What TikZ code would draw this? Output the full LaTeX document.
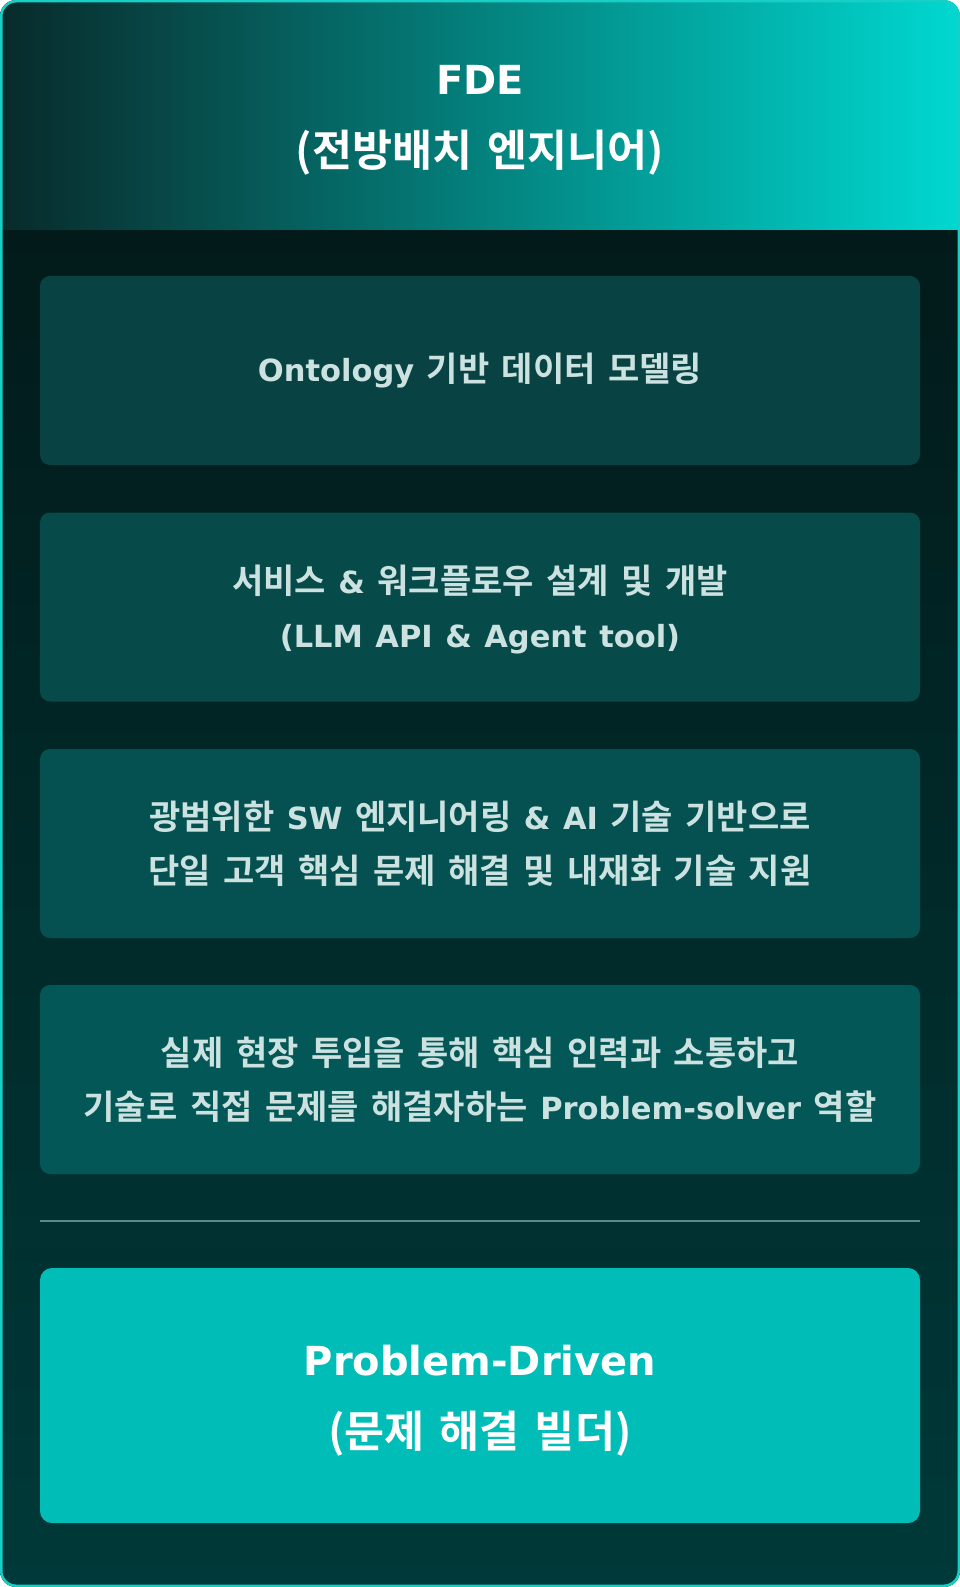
\documentclass[tikz,border=0pt]{standalone}
\usepackage{fontspec}
\setmainfont{Noto Sans CJK KR}[BoldFont={Noto Sans CJK KR Bold}]
\newfontfamily\lat{DejaVu Sans}[BoldFont={DejaVu Sans Bold}]
\newcommand\latn[1]{{\lat\fontsize{30.5}{54}\selectfont #1}}
\newcommand\latB[1]{{\lat\fontsize{40}{72}\selectfont #1}}
\newcommand\bodyfont{\bfseries\fontsize{34}{54}\selectfont\spaceskip=12.5pt plus 2pt minus 2pt\relax}
\newcommand\bigfont{\bfseries\fontsize{43.5}{72}\selectfont\spaceskip=15pt plus 2pt minus 2pt\relax}
\definecolor{hdL}{HTML}{082A2A}
\definecolor{hdR}{HTML}{00D8D0}
\definecolor{bgT}{HTML}{021A1A}
\definecolor{bgB}{HTML}{003939}
\definecolor{bxA}{HTML}{094242}
\definecolor{bxB}{HTML}{074A4A}
\definecolor{bxC}{HTML}{055151}
\definecolor{bxD}{HTML}{035757}
\definecolor{txt}{HTML}{CCE2E0}
\definecolor{fin}{HTML}{00BDB8}
\definecolor{rim}{HTML}{17CFC6}
\definecolor{sepc}{HTML}{5C8A8A}
\begin{document}
\begin{tikzpicture}[x=1pt,y=-1pt,
  card/.style={rounded corners=10pt, minimum width=880pt, minimum height=189pt,
    inner sep=0pt, align=center, text=txt, font=\bodyfont},
  finalbox/.style={rounded corners=12pt, minimum width=880pt, minimum height=255pt,
    inner sep=0pt, fill=fin},
  bigtext/.style={inner sep=0pt, align=center, text=white, font=\bigfont},
  sepline/.style={draw=sepc, line width=2pt}]
\fill[white] (0,0) rectangle (960,1587);
\begin{scope}
  \clip[rounded corners=16pt] (0,0) rectangle (960,1587);
  \shade[top color=bgT, bottom color=bgB] (0,229) rectangle (960,1587);
  \shade[left color=hdL, right color=hdR] (0,0) rectangle (960,229);
\end{scope}
\draw[rim, line width=2.5pt, rounded corners=15pt] (1.25,1.25) rectangle (958.75,1585.75);

\node[bigtext] (title) at (480,120) {\latB{FDE}\\(전방배치 엔지니어)};

\node[card, fill=bxA, text height=27pt, text depth=5pt] (b1) at (480,370.5) {\latn{Ontology} 기반 데이터 모델링};
\node[card, fill=bxB] (b2) at (480,607) {서비스 \latn{\&} 워크플로우 설계 및 개발\\\raisebox{0pt}[\height][1.5pt]{\latn{(LLM API \& Agent tool)}}};
\node[card, fill=bxC] (b3) at (480,843.5) {광범위한 \latn{SW} 엔지니어링 \latn{\& AI} 기술 기반으로\\단일 고객 핵심 문제 해결 및 내재화 기술 지원};
\node[card, fill=bxD] (b4) at (480,1079.5) {실제 현장 투입을 통해 핵심 인력과 소통하고\\기술로 직접 문제를 해결자하는 \latn{Problem-solver} 역할};

\coordinate (sl) at (40,1221);
\coordinate (sr) at (920,1221);
\draw[sepline] (sl) -- (sr);

\node[finalbox] (fb) at (480,1395.5) {};
\node[bigtext] (fbt) at (480,1401) {\latB{Problem-Driven}\\(문제 해결 빌더)};
\end{tikzpicture}
\end{document}
